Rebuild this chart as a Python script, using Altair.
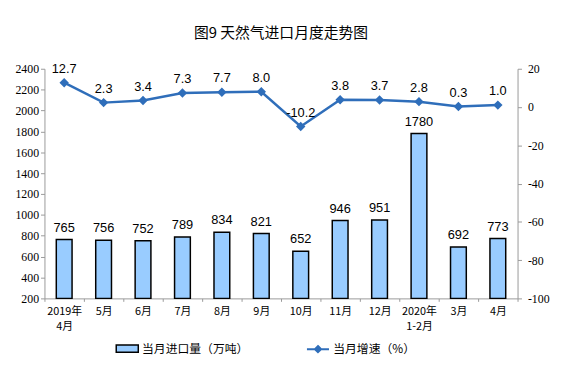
import altair as alt
import pandas as pd

months = ["2019年|4月", "5月", "6月", "7月", "8月", "9月", "10月", "11月", "12月", "2020年|1-2月", "3月", "4月"]
imports = [765, 756, 752, 789, 834, 821, 652, 946, 951, 1780, 692, 773]
growth = [12.7, 2.3, 3.4, 7.3, 7.7, 8.0, -10.2, 3.8, 3.7, 2.8, 0.3, 1.0]
left_ticks = [200, 400, 600, 800, 1000, 1200, 1400, 1600, 1800, 2000, 2200, 2400]
right_ticks = [-100, -80, -60, -40, -20, 0, 20]

bar_name = "当月进口量（万吨）"
line_name = "当月增速（%）"

df = pd.DataFrame({
    "month": months,
    "imports": imports,
    "growth": growth,
    "growth_label": [f"{g:.1f}" for g in growth],
    "bar_s": [bar_name] * len(months),
    "line_s": [line_name] * len(months),
})

CJK = "Noto Sans CJK SC"
SERIF = "Liberation Serif, Times New Roman, serif"
SANS = "Liberation Sans"
BLUE = "#2F6EBA"
FILL = "#99CCFF"

x = alt.X("month:N", sort=months, title=None,
          scale=alt.Scale(paddingInner=0, paddingOuter=0),
          axis=alt.Axis(labelAngle=0, labelFont=CJK, labelFontSize=11, labelColor="#000",
                        labelExpr="split(datum.label, '|')", labelPadding=4,
                        domainColor="#999", tickColor="#999", tickSize=3, tickBand="extent",
                        labelLineHeight=16))

base = alt.Chart(df).encode(x=x)

left_scale = alt.Scale(domain=[200, 2400], zero=False, nice=False)
right_scale = alt.Scale(domain=[-100, 20], nice=False)

left_axis = alt.Axis(values=left_ticks, format="d", labelFont=SERIF,
                     labelFontSize=12, labelOverlap=False, labelFlush=False,
                     labelColor="#000", domainColor="#999", tickColor="#999", tickSize=4,
                     grid=False, labelPadding=2)
right_axis = alt.Axis(orient="right", values=right_ticks, format="d",
                      labelExpr="replace(datum.label, '\u2212', '-')",
                      labelFont=SERIF, labelFontSize=12, labelOverlap=False, labelFlush=False,
                      labelColor="#000", domainColor="#999", tickColor="#999",
                      tickSize=4, grid=False, labelPadding=6)

bars = base.mark_bar(size=16, stroke="#000", strokeWidth=1.5).encode(
    y=alt.Y("imports:Q", title=None, scale=left_scale, axis=left_axis),
    y2=alt.datum(200),
    fill=alt.Fill("bar_s:N", title=None,
                  scale=alt.Scale(domain=[bar_name], range=[FILL]),
                  legend=alt.Legend(orient="none", legendX=72, legendY=272,
                                    symbolType="M-1,-0.33H1V0.33H-1Z", symbolSize=500,
                                    symbolStrokeColor="#000", symbolStrokeWidth=1.5,
                                    labelFont=CJK, labelFontSize=12, labelColor="#000",
                                    labelOffset=3, labelLimit=300)),
)

bar_text = base.mark_text(dy=-5, baseline="bottom", font=SANS, fontSize=13, color="#000").encode(
    y=alt.Y("imports:Q", title=None, scale=left_scale, axis=left_axis),
    text=alt.Text("imports:Q"),
)

left = alt.layer(bars, bar_text)

line = base.mark_line(strokeWidth=2.5,
                      point=alt.OverlayMarkDef(shape="diamond", filled=True, size=45, color=BLUE)).encode(
    y=alt.Y("growth:Q", title=None, scale=right_scale, axis=right_axis),
    stroke=alt.Stroke("line_s:N", title=None,
                      scale=alt.Scale(domain=[line_name], range=[BLUE]),
                      legend=alt.Legend(orient="none", legendX=265, legendY=272,
                                        symbolType="M-1,0H1M0,-0.28L0.28,0L0,0.28L-0.28,0Z",
                                        symbolSize=500, symbolStrokeColor=BLUE, symbolFillColor=BLUE,
                                        symbolStrokeWidth=2,
                                        labelFont=CJK, labelFontSize=12, labelColor="#000",
                                        labelOffset=3, labelLimit=300)),
)

line_text = base.mark_text(dy=-7, baseline="bottom", font=SANS, fontSize=13, color="#000").encode(
    y=alt.Y("growth:Q", title=None, scale=right_scale, axis=right_axis),
    text=alt.Text("growth_label:N"),
)

right = alt.layer(line, line_text)

chart = alt.layer(left, right).resolve_scale(y="independent", fill="independent", stroke="independent").properties(
    width=480, height=233,
    autosize=alt.AutoSizeParams(type="none"),
    padding={"left": 37, "top": 59, "right": 38, "bottom": 68},
    title=alt.TitleParams("图9  天然气进口月度走势图", font=CJK, fontSize=15, fontWeight="normal",
                          color="#000", anchor="middle", offset=22),
).configure_view(stroke=None).configure_axisY(labelOverlap=False)

chart.save("out.html", embed_options={"renderer": "svg", "actions": False})
